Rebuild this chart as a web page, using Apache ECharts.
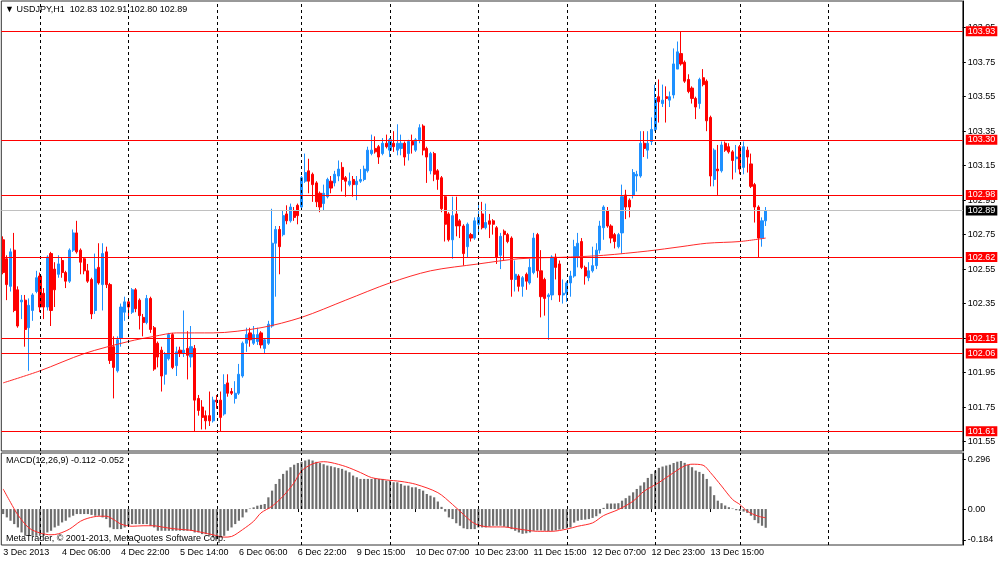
<!DOCTYPE html>
<html>
<head>
<meta charset="utf-8">
<title>USDJPY,H1</title>
<script src="https://cdn.jsdelivr.net/npm/echarts@6.0.0/dist/echarts.min.js"></script>
<style>
html, body { margin: 0; padding: 0; background: #fff; }
#main { width: 1000px; height: 562px; }
</style>
</head>
<body>
<div id="main"></div>
<script>
// H1 bars
var opens = [
	102.72, 102.61, 102.45, 102.66, 102.43, 102.36, 102.37, 102.21, 102.31, 102.42,
	102.51, 102.41, 102.33, 102.64, 102.55, 102.52, 102.60, 102.53, 102.48, 102.66,
	102.76, 102.66, 102.61, 102.54, 102.49, 102.31, 102.56, 102.46, 102.65, 102.46,
	102.10, 101.96, 102.15, 102.30, 102.36, 102.30, 102.43, 102.37, 102.27, 102.24,
	102.38, 102.21, 102.12, 102.08, 101.94, 102.03, 102.17, 101.99, 102.08, 102.06,
	102.09, 102.04, 102.09, 101.80, 101.75, 101.70, 101.70, 101.67, 101.79, 101.79,
	101.71, 101.89, 101.84, 101.80, 101.83, 101.93, 102.12, 102.18, 102.12, 102.13,
	102.18, 102.09, 102.12, 102.22, 102.70, 102.78, 102.75, 102.87, 102.83, 102.89,
	102.92, 102.91, 103.06, 103.12, 103.10, 103.05, 102.99, 102.93, 102.97, 103.06,
	103.05, 103.09, 103.14, 103.08, 103.04, 103.07, 103.04, 103.06, 103.07, 103.12,
	103.22, 103.25, 103.26, 103.22, 103.28, 103.24, 103.28, 103.24, 103.25, 103.28,
	103.22, 103.29, 103.24, 103.30, 103.38, 103.25, 103.12, 103.22, 103.12, 103.08,
	102.97, 102.87, 102.72, 102.87, 102.83, 102.80, 102.68, 102.75, 102.73, 102.81,
	102.87, 102.79, 102.83, 102.83, 102.79, 102.63, 102.77, 102.75, 102.73, 102.49,
	102.51, 102.45, 102.52, 102.47, 102.53, 102.75, 102.54, 102.49, 102.39, 102.40,
	102.62, 102.58, 102.40, 102.41, 102.47, 102.51, 102.62, 102.71, 102.56, 102.50,
	102.54, 102.57, 102.66, 102.79, 102.89, 102.80, 102.75, 102.68, 102.76, 102.98,
	102.95, 102.98, 103.09, 103.09, 103.28, 103.24, 103.29, 103.36, 103.55, 103.51,
	103.55, 103.53, 103.56, 103.71, 103.80, 103.75, 103.65, 103.60, 103.54, 103.51,
	103.66, 103.64, 103.43, 103.07, 103.13, 103.12, 103.28, 103.26, 103.23, 103.19,
	103.26, 103.14, 103.24, 103.16, 103.04, 102.91, 102.73, 102.83
]
var highs = [
	102.74, 102.63, 102.67, 102.76, 102.45, 102.40, 102.40, 102.38, 102.41, 102.54,
	102.53, 102.44, 102.63, 102.65, 102.59, 102.63, 102.62, 102.54, 102.67, 102.78,
	102.83, 102.67, 102.62, 102.58, 102.50, 102.64, 102.70, 102.70, 102.68, 102.47,
	102.16, 102.16, 102.35, 102.39, 102.38, 102.44, 102.44, 102.38, 102.29, 102.40,
	102.39, 102.22, 102.13, 102.10, 102.07, 102.18, 102.18, 102.10, 102.10, 102.31,
	102.19, 102.22, 102.11, 101.82, 101.79, 101.73, 101.84, 101.81, 101.82, 101.84,
	101.94, 101.94, 101.86, 101.90, 102.00, 102.13, 102.21, 102.21, 102.22, 102.21,
	102.19, 102.15, 102.25, 102.90, 102.80, 102.80, 102.89, 102.92, 102.93, 102.91,
	102.93, 103.09, 103.22, 103.19, 103.11, 103.06, 103.00, 103.04, 103.08, 103.09,
	103.12, 103.18, 103.17, 103.09, 103.11, 103.09, 103.09, 103.13, 103.15, 103.26,
	103.33, 103.32, 103.27, 103.31, 103.33, 103.31, 103.35, 103.39, 103.33, 103.29,
	103.30, 103.33, 103.31, 103.39, 103.39, 103.26, 103.23, 103.23, 103.13, 103.09,
	102.98, 102.88, 102.97, 102.97, 102.84, 102.81, 102.82, 102.76, 102.85, 102.94,
	102.94, 102.93, 102.87, 102.84, 102.80, 102.76, 102.78, 102.76, 102.74, 102.60,
	102.52, 102.51, 102.53, 102.61, 102.76, 102.76, 102.66, 102.50, 102.41, 102.63,
	102.64, 102.60, 102.49, 102.48, 102.54, 102.72, 102.76, 102.73, 102.57, 102.59,
	102.68, 102.70, 102.83, 102.92, 102.91, 102.81, 102.76, 102.76, 103.04, 103.01,
	102.96, 103.13, 103.12, 103.35, 103.35, 103.35, 103.43, 103.62, 103.65, 103.62,
	103.61, 103.58, 103.83, 103.87, 103.93, 103.76, 103.68, 103.61, 103.55, 103.66,
	103.71, 103.65, 103.44, 103.25, 103.27, 103.29, 103.29, 103.28, 103.24, 103.27,
	103.27, 103.29, 103.26, 103.22, 103.05, 102.92, 102.85, 102.91
]
var lows = [
	102.52, 102.37, 102.42, 102.30, 102.21, 102.26, 102.10, 101.96, 102.25, 102.41,
	102.30, 102.26, 102.31, 102.22, 102.33, 102.50, 102.50, 102.44, 102.47, 102.65,
	102.64, 102.52, 102.52, 102.47, 102.26, 102.29, 102.46, 102.31, 102.44, 102.00,
	101.80, 101.95, 102.10, 102.25, 102.26, 102.29, 102.30, 102.20, 102.16, 102.23,
	102.18, 101.96, 101.98, 101.84, 101.88, 102.02, 101.97, 101.93, 102.04, 102.04,
	101.91, 101.98, 101.61, 101.70, 101.62, 101.62, 101.64, 101.66, 101.74, 101.61,
	101.70, 101.81, 101.82, 101.77, 101.82, 101.92, 102.07, 102.10, 102.11, 102.11,
	102.09, 102.06, 102.11, 102.21, 102.39, 102.52, 102.74, 102.81, 102.82, 102.83,
	102.81, 102.90, 103.05, 102.99, 102.94, 102.91, 102.88, 102.89, 102.96, 102.99,
	103.03, 103.06, 103.00, 102.97, 103.03, 102.97, 102.95, 103.05, 103.06, 103.11,
	103.21, 103.22, 103.16, 103.21, 103.25, 103.20, 103.23, 103.21, 103.21, 103.15,
	103.18, 103.22, 103.23, 103.28, 103.21, 103.05, 103.10, 103.06, 103.01, 102.88,
	102.71, 102.71, 102.61, 102.74, 102.73, 102.57, 102.62, 102.71, 102.72, 102.76,
	102.78, 102.78, 102.73, 102.75, 102.58, 102.55, 102.60, 102.70, 102.39, 102.42,
	102.42, 102.39, 102.43, 102.46, 102.52, 102.50, 102.27, 102.28, 102.14, 102.37,
	102.49, 102.36, 102.35, 102.36, 102.39, 102.50, 102.56, 102.55, 102.46, 102.48,
	102.53, 102.55, 102.64, 102.72, 102.79, 102.70, 102.67, 102.67, 102.64, 102.84,
	102.85, 102.96, 103.00, 103.08, 103.20, 103.19, 103.27, 103.35, 103.40, 103.49,
	103.40, 103.49, 103.54, 103.71, 103.73, 103.63, 103.57, 103.51, 103.42, 103.48,
	103.61, 103.35, 103.03, 103.03, 102.98, 103.11, 103.23, 103.22, 103.07, 103.11,
	103.10, 103.10, 103.11, 103.02, 102.82, 102.62, 102.68, 102.80
]
var closes = [
	102.53, 102.46, 102.65, 102.31, 102.22, 102.37, 102.20, 102.34, 102.40, 102.50,
	102.33, 102.33, 102.62, 102.31, 102.43, 102.58, 102.53, 102.48, 102.66, 102.76,
	102.65, 102.59, 102.54, 102.48, 102.29, 102.55, 102.47, 102.64, 102.46, 102.02,
	101.98, 102.14, 102.33, 102.36, 102.33, 102.43, 102.32, 102.28, 102.24, 102.38,
	102.20, 101.97, 102.04, 101.93, 102.06, 102.17, 101.98, 102.07, 102.06, 102.08,
	102.05, 102.10, 101.79, 101.73, 101.69, 101.67, 101.67, 101.79, 101.78, 101.69,
	101.88, 101.83, 101.83, 101.83, 101.94, 102.12, 102.17, 102.14, 102.17, 102.17,
	102.11, 102.14, 102.23, 102.70, 102.78, 102.68, 102.86, 102.83, 102.91, 102.85,
	102.86, 103.08, 103.11, 103.06, 103.04, 102.94, 102.91, 102.99, 103.07, 103.02,
	103.10, 103.13, 103.07, 103.06, 103.06, 103.04, 103.06, 103.07, 103.13, 103.24,
	103.24, 103.23, 103.20, 103.28, 103.26, 103.30, 103.26, 103.28, 103.28, 103.20,
	103.29, 103.27, 103.30, 103.37, 103.24, 103.20, 103.22, 103.10, 103.07, 102.90,
	102.81, 102.72, 102.86, 102.80, 102.80, 102.64, 102.81, 102.73, 102.83, 102.85,
	102.79, 102.82, 102.81, 102.81, 102.62, 102.74, 102.75, 102.71, 102.49, 102.52,
	102.45, 102.50, 102.48, 102.56, 102.73, 102.54, 102.39, 102.38, 102.40, 102.62,
	102.56, 102.40, 102.41, 102.47, 102.51, 102.68, 102.70, 102.56, 102.51, 102.54,
	102.57, 102.66, 102.80, 102.91, 102.80, 102.73, 102.71, 102.75, 102.97, 102.91,
	102.91, 103.11, 103.10, 103.28, 103.25, 103.28, 103.36, 103.54, 103.52, 103.53,
	103.54, 103.55, 103.74, 103.81, 103.74, 103.64, 103.58, 103.54, 103.49, 103.65,
	103.62, 103.41, 103.09, 103.24, 103.12, 103.27, 103.24, 103.23, 103.18, 103.20,
	103.13, 103.26, 103.20, 103.03, 102.91, 102.73, 102.83, 102.89
]

// moving average, sampled at these bars
var maBars = [0, 10, 22, 34, 41, 47, 57, 70, 81, 93, 105, 116, 129, 140, 154, 163, 175, 184, 191, 200, 207]
var maValues = [101.89, 101.96, 102.06, 102.13, 102.16, 102.18, 102.18, 102.21, 102.27, 102.37, 102.47,
	102.54, 102.58, 102.61, 102.62, 102.63, 102.655, 102.68, 102.70, 102.71, 102.73]

// MACD histogram, one value per bar
var macdMain = [
	-0.03, -0.05, -0.07, -0.09, -0.11, -0.14, -0.16, -0.16, -0.16, -0.16,
	-0.16, -0.16, -0.14, -0.13, -0.11, -0.10, -0.08, -0.07, -0.05, -0.04,
	-0.03, -0.03, -0.03, -0.03, -0.035, -0.04, -0.04, -0.05, -0.06, -0.11,
	-0.12, -0.12, -0.12, -0.11, -0.10, -0.09, -0.09, -0.09, -0.09, -0.09,
	-0.10, -0.11, -0.13, -0.13, -0.13, -0.13, -0.13, -0.13, -0.13, -0.13,
	-0.13, -0.13, -0.14, -0.14, -0.15, -0.15, -0.16, -0.17, -0.18, -0.17,
	-0.16, -0.13, -0.11, -0.09, -0.07, -0.05, -0.02, 0.003, 0.01, 0.02,
	0.025, 0.03, 0.07, 0.11, 0.15, 0.18, 0.21, 0.23, 0.25, 0.265,
	0.275, 0.282, 0.29, 0.296, 0.29, 0.282, 0.275, 0.268, 0.26, 0.256,
	0.25, 0.245, 0.24, 0.23, 0.22, 0.20, 0.19, 0.18, 0.18, 0.18,
	0.18, 0.185, 0.18, 0.18, 0.17, 0.17, 0.16, 0.16, 0.15, 0.14,
	0.14, 0.13, 0.13, 0.12, 0.11, 0.09, 0.08, 0.07, 0.045, 0.013,
	-0.015, -0.05, -0.06, -0.085, -0.10, -0.115, -0.12, -0.12, -0.12, -0.11,
	-0.11, -0.11, -0.105, -0.10, -0.10, -0.10, -0.105, -0.11, -0.12, -0.13,
	-0.14, -0.148, -0.145, -0.14, -0.13, -0.128, -0.128, -0.13, -0.133, -0.13,
	-0.128, -0.123, -0.12, -0.115, -0.11, -0.081, -0.07, -0.065, -0.063, -0.06,
	-0.053, -0.043, -0.027, 0.007, 0.033, 0.033, 0.033, 0.035, 0.05, 0.065,
	0.08, 0.10, 0.12, 0.14, 0.16, 0.186, 0.21, 0.23, 0.246, 0.254,
	0.26, 0.265, 0.275, 0.283, 0.287, 0.276, 0.264, 0.25, 0.23, 0.222,
	0.21, 0.18, 0.135, 0.083, 0.05, 0.035, 0.021, 0.011, 0.003, -0.007,
	-0.011, -0.015, -0.023, -0.04, -0.066, -0.085, -0.10, -0.112
]

// signal line, sampled at these bars
var signalBars = [0, 2, 4, 7, 10, 13, 15, 18, 21, 23, 26, 28, 30, 32, 35, 38, 41, 43, 46, 49, 51, 54, 57, 60, 62,
	65, 68, 70, 73, 76, 79, 81, 84, 87, 89, 93, 97, 100, 104, 108, 112, 118, 122, 125, 128, 132, 136, 138,
	141, 145, 149, 153, 156, 160, 163, 167, 171, 174, 178, 182, 185, 187, 190, 192, 195, 198, 200, 202, 205, 207]
var signalValues = [0.12, 0.04, -0.035, -0.113, -0.143, -0.154, -0.148, -0.12, -0.073, -0.055, -0.043, -0.043,
	-0.063, -0.09, -0.103, -0.10, -0.10, -0.107, -0.117, -0.123, -0.127, -0.14, -0.154, -0.168, -0.164,
	-0.123, -0.073, -0.023, 0.017, 0.077, 0.158, 0.228, 0.27, 0.283, 0.278, 0.254, 0.218, 0.188, 0.174,
	0.165, 0.148, 0.098, 0.027, -0.033, -0.087, -0.107, -0.107, -0.113, -0.123, -0.133, -0.133, -0.12,
	-0.103, -0.083, -0.039, -0.003, 0.047, 0.107, 0.158, 0.218, 0.258, 0.268, 0.262, 0.218, 0.138, 0.057,
	0.027, -0.013, -0.043, -0.052]

// horizontal levels drawn on the chart
var levels = [103.93, 103.30, 102.98, 102.62, 102.15, 102.06, 101.61]

// axis texts
var priceTicks = [101.55, 101.75, 101.95, 102.15, 102.35, 102.55, 102.75, 102.95, 103.15, 103.35, 103.55, 103.75, 103.95]
var macdTicks = [-0.184, 0, 0.296]
var timeLabels = ['3 Dec 2013', '4 Dec 06:00', '4 Dec 22:00', '5 Dec 14:00', '6 Dec 06:00', '6 Dec 22:00',
	'9 Dec 15:00', '10 Dec 07:00', '10 Dec 23:00', '11 Dec 15:00', '12 Dec 07:00', '12 Dec 23:00', '13 Dec 15:00']
// first bar of each day (dashed separators)
var dayStarts = [10, 34, 58, 81, 105, 129, 153, 177, 200, 224]

var slots = 261
var labelStep = 16
var font = 'Liberation Sans'

var chart = echarts.init(document.getElementById('main'))

var cats = []
for (var i = 0; i < slots; i++) cats.push(String(i))

var candles = []
for (var i = 0; i < opens.length; i++) {
	candles.push([opens[i], closes[i], lows[i], highs[i]])
}
var ma = maBars.map(function(b, k) { return [b, maValues[k]] })
var signal = signalBars.map(function(b, k) { return [b, signalValues[k]] })

var last = opens.length - 1
var lastClose = closes[last]

function showLabel(i) {
	return i % labelStep === 0 && i / labelStep < timeLabels.length
}

var daySepLines = dayStarts.map(function(d) {
	return {xAxis: d}
})

function tag(v, bg) {
	return {show: true, position: 'end', distance: 3, formatter: v.toFixed(2),
		color: '#fff', backgroundColor: bg, padding: [1, 2, 0, 2],
		fontSize: 9, fontFamily: font}
}

var levelLines = levels.map(function(v) {
	return {yAxis: v, lineStyle: {color: '#ff0000', type: 'solid', width: 1}, label: tag(v, '#ff0000')}
})
// bid line
levelLines.push({yAxis: lastClose, lineStyle: {color: '#c0c0c0', type: 'solid', width: 1}, label: tag(lastClose, '#000')})

var textStyle = {fontSize: 9, fontWeight: 'normal', color: '#000', fontFamily: font}

var option = {
	animation: false,
	backgroundColor: '#fff',
	title: [
		{text: '\u25BC USDJPY,H1  ' + [opens[last], highs[last], lows[last], closes[last]].map(function(v) { return v.toFixed(2) }).join(' '),
			left: 5, top: 5, padding: 0, textStyle: textStyle},
		{text: 'MACD(12,26,9) ' + macdMain[last].toFixed(3) + ' ' + signalValues[signalValues.length - 1].toFixed(3),
			left: 6, top: 456, padding: 0, textStyle: textStyle},
		{text: 'MetaTrader, \u00A9 2001-2013, MetaQuotes Software Corp.',
			left: 6, top: 534, padding: 0, textStyle: textStyle}
	],
	grid: [
		{left: 1.3, right: 37.2, top: 1, height: 450, show: true, borderColor: '#333', borderWidth: 1},
		{left: 1.3, right: 37.2, top: 453, height: 92, show: true, borderColor: '#333', borderWidth: 1}
	],
	xAxis: [
		{type: 'category', gridIndex: 0, data: cats, boundaryGap: true,
			axisLine: {show: false}, axisTick: {show: false}, axisLabel: {show: false}, splitLine: {show: false}},
		{type: 'category', gridIndex: 1, data: cats, boundaryGap: true,
			axisLine: {show: false},
			axisTick: {show: true, alignWithLabel: true, length: 3, lineStyle: {color: '#000'},
				interval: function(i) { return showLabel(i) }},
			axisLabel: {show: true, align: 'left', margin: 3, color: '#000', fontSize: 9, fontFamily: font,
				interval: function(i) { return showLabel(i) },
				formatter: function(v, i) { return showLabel(i) ? timeLabels[i / labelStep] : '' }},
			splitLine: {show: false}}
	],
	yAxis: [
		{type: 'value', gridIndex: 0, position: 'right', min: 101.495, max: 104.105, scale: true,
			splitLine: {show: false},
			axisLine: {show: true, lineStyle: {color: '#000'}},
			axisTick: {show: true, length: 3, customValues: priceTicks, lineStyle: {color: '#000'}},
			axisLabel: {show: true, customValues: priceTicks, margin: 5, color: '#000', fontSize: 9, fontFamily: font,
				formatter: function(v) { return v.toFixed(2) }}},
		{type: 'value', gridIndex: 1, position: 'right', min: -0.215, max: 0.335,
			splitLine: {show: false},
			axisLine: {show: true, lineStyle: {color: '#000'}},
			axisTick: {show: true, length: 3, customValues: macdTicks, lineStyle: {color: '#000'}},
			axisLabel: {show: true, customValues: macdTicks, margin: 5, color: '#000', fontSize: 9, fontFamily: font,
				formatter: function(v) { return v === 0 ? '0.00' : v.toFixed(3) }}}
	],
	series: [
		{
			name: 'USDJPY', type: 'candlestick', xAxisIndex: 0, yAxisIndex: 0,
			data: candles, barWidth: 2.6, clip: false, silent: true,
			itemStyle: {color: '#1e90ff', color0: '#ff0000', borderColor: '#1e90ff', borderColor0: '#ff0000',
				borderColorDoji: '#1e90ff', borderWidth: 1},
			markLine: {
				silent: true, symbol: 'none', animation: false,
				label: {show: false},
				lineStyle: {color: '#000', type: [3, 3], width: 1},
				data: daySepLines.concat(levelLines)
			}
		},
		{
			name: 'MA', type: 'line', xAxisIndex: 0, yAxisIndex: 0,
			data: ma, smooth: 0.3, showSymbol: false, silent: true,
			lineStyle: {color: '#ff2a2a', width: 1}
		},
		{
			name: 'MACD', type: 'bar', xAxisIndex: 1, yAxisIndex: 1,
			data: macdMain, barWidth: 2.2, silent: true,
			itemStyle: {color: '#6e6e6e'},
			markLine: {
				silent: true, symbol: 'none', animation: false,
				label: {show: false},
				lineStyle: {color: '#000', type: [3, 3], width: 1},
				data: daySepLines
			}
		},
		{
			name: 'Signal', type: 'line', xAxisIndex: 1, yAxisIndex: 1,
			data: signal, smooth: 0.3, showSymbol: false, silent: true,
			lineStyle: {color: '#ff2a2a', width: 1}
		}
	]
}

chart.setOption(option)
</script>
</body>
</html>
